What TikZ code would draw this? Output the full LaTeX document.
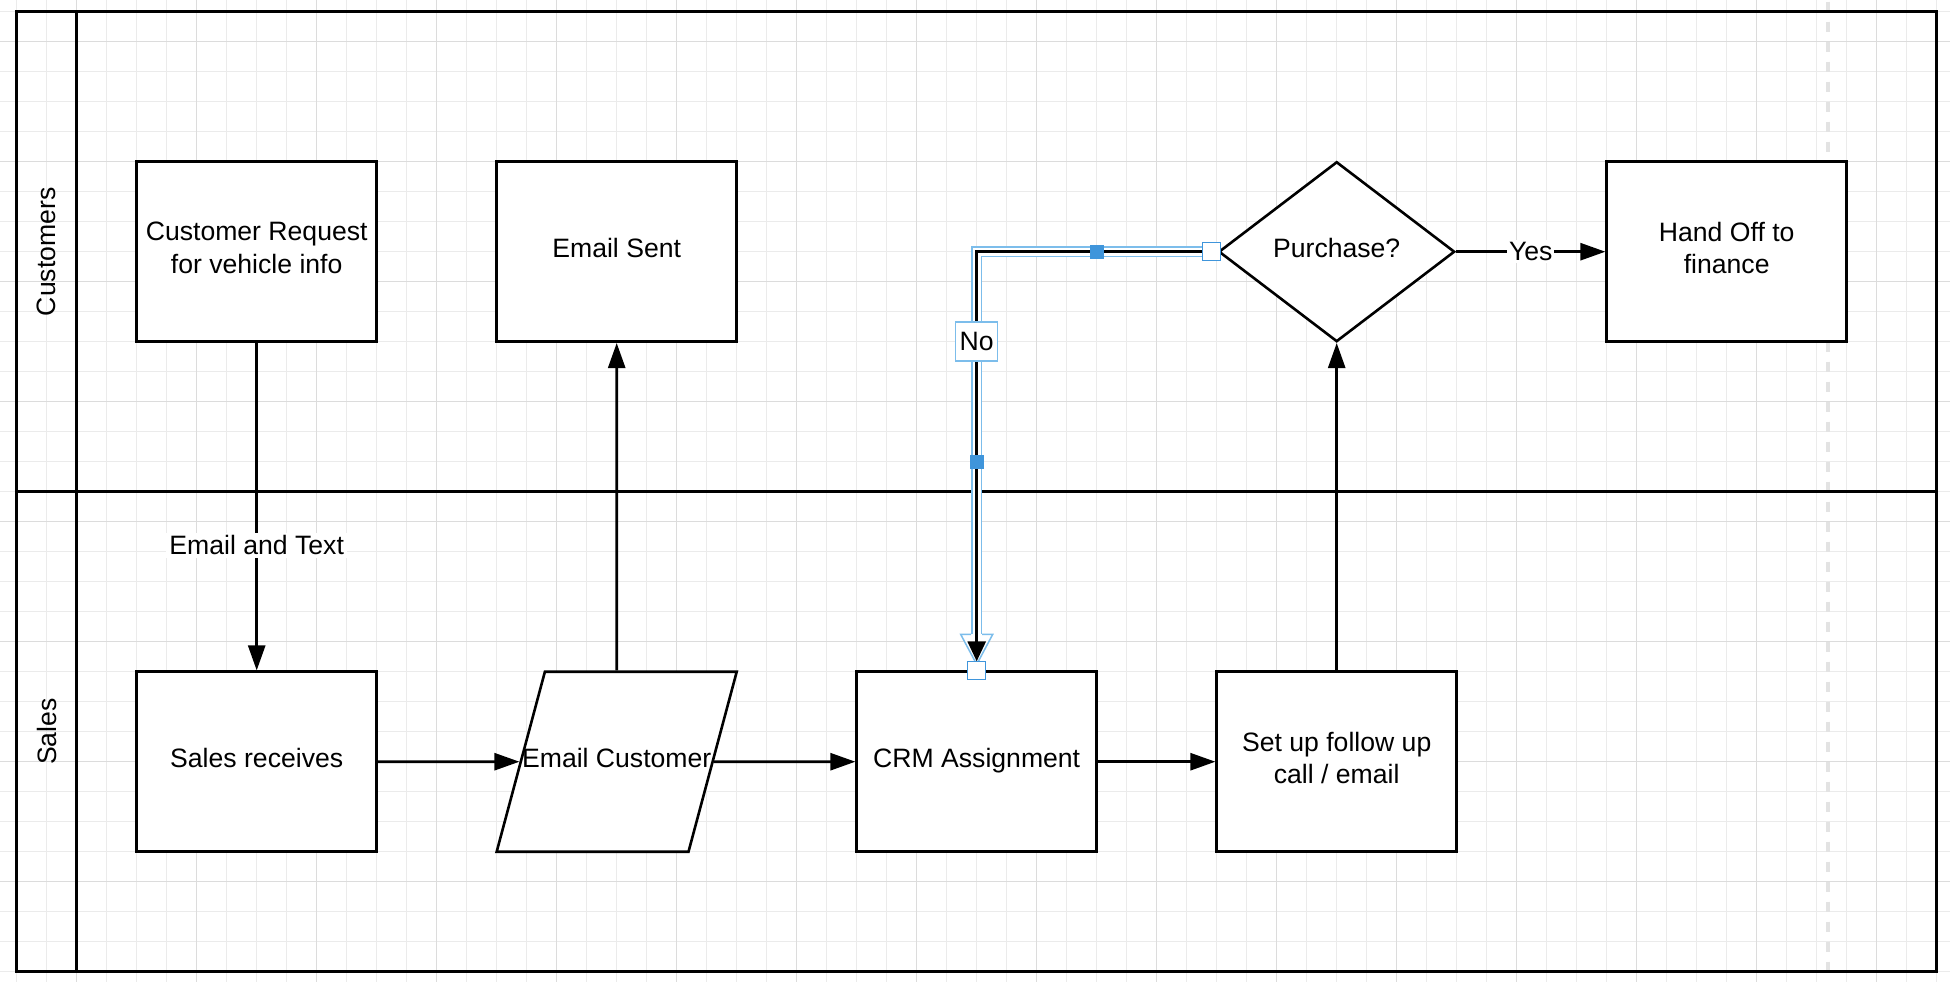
\documentclass[tikz,border=0pt]{standalone}
\usepackage{fontspec}
\setmainfont{Liberation Sans}
\usetikzlibrary{arrows.meta,shapes.geometric}
\definecolor{gridminor}{HTML}{EBEBEB}
\definecolor{gridmajor}{HTML}{DCDCDC}
\definecolor{selline}{HTML}{7CBDEB}
\definecolor{selhandle}{HTML}{3F95DB}
\tikzset{
  every node/.append style={font=\fontsize{13.3}{16.2}\selectfont},
  lane/.style={line width=1.3pt},
  procbox/.style={draw, line width=1.3pt, fill=white, minimum width=120pt, minimum height=90pt, align=center, text depth=4pt},
  decision/.style={diamond, draw, line width=1.3pt, fill=white, minimum width=118pt, minimum height=90pt, inner sep=0pt, aspect=1.3, text depth=4pt},
  iobox/.style={trapezium, trapezium left angle=75, trapezium right angle=105, draw, line width=1.3pt, fill=white, inner xsep=-11.4pt, inner ysep=0pt, text height=47.75pt, text depth=42.25pt},
  flow/.style={-{Triangle[length=12.5pt,width=8.5pt]}, line width=1.3pt},
  edgelbl/.style={fill=white, inner sep=1.5pt},
  nolbl/.style={fill=white, draw=selline, line width=0.75pt, minimum width=21pt, minimum height=19.5pt, inner sep=1pt},
  handle/.style={rectangle, fill=selhandle, minimum size=7pt, inner sep=0pt},
  endhandle/.style={rectangle, draw=selhandle, fill=white, line width=0.75pt, minimum size=9pt, inner sep=0pt}
}
\begin{document}
\begin{tikzpicture}[x=15pt,y=-15pt]
  \useasboundingbox (-0.5567,-0.39) rectangle (64.4433,32.3433);
  \fill[white] (-0.5567,-0.39) rectangle (64.4433,32.3433);
  \foreach \i in {0,...,64} \draw[gridminor, line width=0.55pt] (\i,-0.39) -- (\i,32.3433);
  \foreach \j in {0,...,32} \draw[gridminor, line width=0.55pt] (-0.5567,\j) -- (64.4433,\j);
  \foreach \i in {2,6,...,62} \draw[gridmajor, line width=0.55pt] (\i,-0.39) -- (\i,32.3433);
  \foreach \j in {1,5,...,29} \draw[gridmajor, line width=0.55pt] (-0.5567,\j) -- (64.4433,\j);

  \draw[gray!22, line width=2pt, dash pattern=on 5pt off 5pt] (60.38,-0.333) -- (60.38,32);

  \draw[lane] (0,0) rectangle (64,32);
  \draw[lane] (2,0) -- (2,32);
  \draw[lane] (0,16) -- (64,16);
  \node[rotate=90] (custlane) at (1,8) {Customers};
  \node[rotate=90] (saleslane) at (1,24) {Sales};

  \node[procbox] (request) at (8,8) {Customer Request\\for vehicle info};
  \node[procbox] (emailsent) at (20,8) {Email Sent};
  \node[decision] (purchase) at (44,8) {Purchase?};
  \node[procbox] (handoff) at (57,8) {Hand Off to\\finance};
  \node[procbox] (receives) at (8,25) {Sales receives};
  \node[iobox] (emailcust) at (20,25) {Email Customer};
  \node[procbox] (crm) at (32,25) {CRM Assignment};
  \node[procbox] (followup) at (44,25) {Set up follow up\\call / email};

  \draw[flow] (request.south) -- node[edgelbl, pos=0.618] (emailtext) {Email and Text} (receives.north);
  \draw[flow] (receives.east) -- (emailcust.west);
  \draw[flow] (emailcust.north) -- (emailsent.south);
  \draw[flow] (emailcust.east) -- (crm.west);
  \draw[flow] (crm.east) -- (followup.west);
  \draw[flow] (followup.north) -- (purchase.south);
  \draw[flow] (purchase.east) -- node[edgelbl, inner sep=1pt] (yes) {Yes} (handoff.west);

  \draw[selline, line width=5.5pt, shorten >=18pt] (purchase.west) -| (crm.north);
  \draw[white, line width=4pt, shorten >=18pt] (purchase.west) -| (crm.north);
  \fill[white] ([xshift=-8pt,yshift=18pt]crm.north) -- ([xshift=8pt,yshift=18pt]crm.north) -- ([yshift=3pt]crm.north) -- cycle;
  \draw[selline, line width=0.75pt] ([xshift=-2.75pt,yshift=18pt]crm.north) -- ([xshift=-8pt,yshift=18pt]crm.north) -- ([yshift=3pt]crm.north) -- ([xshift=8pt,yshift=18pt]crm.north) -- ([xshift=2.75pt,yshift=18pt]crm.north);
  \draw[flow, -{Triangle[length=10pt,width=9pt]}, shorten >=4.5pt] (purchase.west) -| node[nolbl, pos=0.607] (nolabel) {No} (crm.north);
  \node[handle] (hmida) at (36,8) {};
  \node[handle] (hmidb) at (32,15) {};
  \node[endhandle] (hstart) at ([xshift=-3pt]purchase.west) {};
  \node[endhandle] (hend) at (crm.north) {};
\end{tikzpicture}
\end{document}
